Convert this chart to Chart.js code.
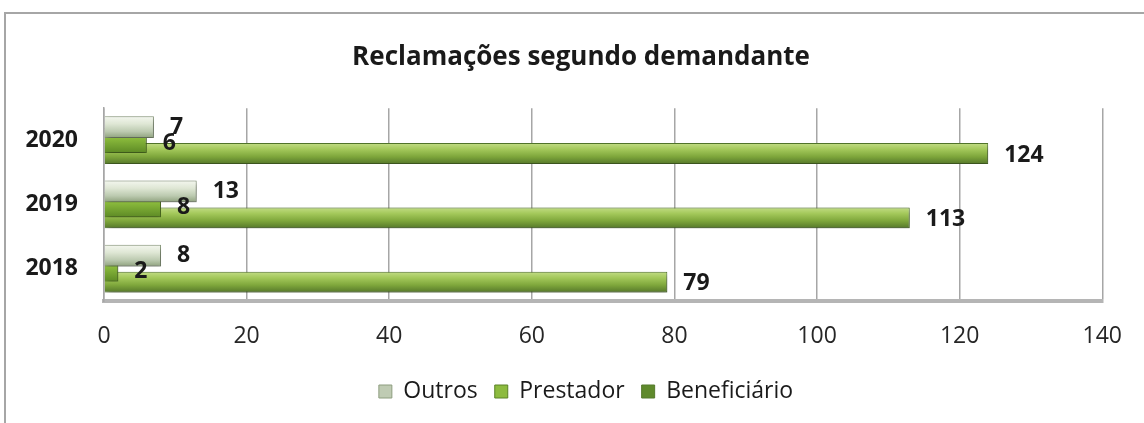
<!DOCTYPE html>
<html>
<head>
<meta charset="utf-8">
<script src="https://cdn.jsdelivr.net/npm/chart.js@4"></script>
<style>
  html, body { margin: 0; padding: 0; background: #fff; }
  #wrap { position: relative; width: 1144px; height: 423px; overflow: hidden; }
  #frame {
    position: absolute; left: 4px; top: 12px; right: -4px; bottom: -4px;
    border-top: 2px solid #a6a6a6; border-left: 2px solid #a6a6a6;
    pointer-events: none;
  }
</style>
</head>
<body>
<div id="wrap">
  <canvas id="chart" width="1144" height="423"></canvas>
  <div id="frame"></div>
</div>
<script>
const years = ['2020', '2019', '2018']
const outros = [7, 13, 8]
const prestador = [6, 8, 2]
const beneficiario = [124, 113, 79]
const xMin = 0
const xMax = 140
const xStep = 20

// vertical gradient per series, gives the bevelled Excel look
const fills = [
  [[0, '#f4f7ef'], [0.35, '#dfe7d5'], [0.7, '#bccab0'], [1, '#8ea17d']],
  [[0, '#a9cf5c'], [0.4, '#8cbc3d'], [1, '#5d8a25']],
  [[0, '#c3dd86'], [0.3, '#a3c85a'], [0.65, '#7ea63b'], [1, '#55772a']]
]
const labelOffset = [0, 3, 1.5]

const bevelBars = {
  id: 'bevelBars',
  beforeDatasetDraw(chart, args) {
    const ctx = chart.ctx
    const stops = fills[args.index]
    args.meta.data.forEach(bar => {
      const top = bar.y - bar.height / 2
      const g = ctx.createLinearGradient(0, top, 0, top + bar.height)
      stops.forEach(([o, c]) => g.addColorStop(o, c))
      bar.options = Object.assign({}, bar.options, { backgroundColor: g })
    })
    ctx.save()
    ctx.shadowColor = 'rgba(0,0,0,0.4)'
    ctx.shadowBlur = 6
    ctx.shadowOffsetX = 2
    ctx.shadowOffsetY = 3
  },
  afterDatasetDraw(chart) {
    chart.ctx.restore()
  }
}

const valueLabels = {
  id: 'valueLabels',
  afterDatasetsDraw(chart) {
    const ctx = chart.ctx
    ctx.save()
    ctx.font = 'bold 23px "Open Sans"'
    ctx.fillStyle = '#1a1a1a'
    ctx.textAlign = 'left'
    ctx.textBaseline = 'middle'
    chart.data.datasets.forEach((ds, i) => {
      chart.getDatasetMeta(i).data.forEach((bar, j) => {
        ctx.fillText(String(ds.data[j]), bar.x + 16, bar.y + labelOffset[i])
      })
    })
    ctx.restore()
  }
}

// title and legend sit a little right of the canvas centre in the original
const shiftBlocks = {
  id: 'shiftBlocks',
  afterLayout(chart) {
    chart.titleBlock.left += 38
    chart.legend.left += 48
  }
}

new Chart(document.getElementById('chart'), {
  type: 'bar',
  data: {
    labels: years,
    datasets: [
      {
        label: 'Outros',
        data: outros,
        backgroundColor: '#bfcbb3',
        borderColor: '#8d9d7f',
        borderWidth: 1,
        barPercentage: 1.65
      },
      {
        label: 'Prestador',
        data: prestador,
        backgroundColor: '#8dbb3f',
        borderColor: '#5a8226',
        borderWidth: 1,
        barPercentage: 1.9
      },
      {
        label: 'Beneficiário',
        data: beneficiario,
        backgroundColor: '#5f8a2c',
        borderColor: '#557a2c',
        borderWidth: 1,
        barPercentage: 1.58
      }
    ]
  },
  options: {
    indexAxis: 'y',
    responsive: false,
    animation: false,
    datasets: { bar: { categoryPercentage: 0.617 } },
    layout: { padding: { left: 18, right: 38, top: 0, bottom: 10 } },
    plugins: {
      title: {
        display: true,
        text: 'Reclamações segundo demandante',
        color: '#1a1a1a',
        font: { family: 'Open Sans', size: 26, weight: 'bold', lineHeight: 1.2 },
        padding: { top: 42, bottom: 35 }
      },
      legend: {
        position: 'bottom',
        labels: {
          boxWidth: 13,
          boxHeight: 13,
          padding: 17,
          color: '#1a1a1a',
          font: { family: 'Open Sans', size: 23 }
        }
      },
      tooltip: { enabled: false }
    },
    scales: {
      x: {
        min: xMin,
        max: xMax,
        ticks: { stepSize: xStep, padding: 22, color: '#262626', font: { family: 'Open Sans', size: 23 } },
        grid: { color: '#a6a6a6', lineWidth: 1.5, drawTicks: false },
        border: { display: true, color: '#b5b5b5', width: 4 },
        afterFit: s => { s.height = 62 }
      },
      y: {
        ticks: { padding: 26, color: '#1a1a1a', font: { family: 'Open Sans', size: 23, weight: 'bold' } },
        grid: { display: false, drawTicks: false },
        border: { display: true, color: '#a6a6a6', width: 1.5 },
        afterFit: s => { s.width = 86 }
      }
    }
  },
  plugins: [bevelBars, valueLabels, shiftBlocks]
})
</script>
</body>
</html>
